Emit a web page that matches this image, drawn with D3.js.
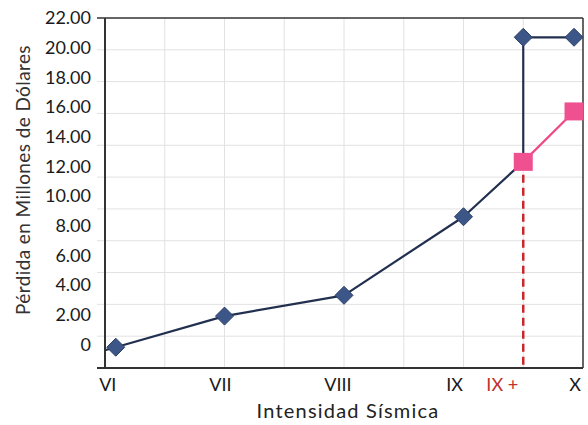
<!DOCTYPE html>
<html>
<head>
<meta charset="utf-8">
<script src="https://cdn.jsdelivr.net/npm/d3@7"></script>
<style>
  html, body { margin: 0; padding: 0; background: #fff; }
  svg { display: block; font-family: Lato, "Open Sans", sans-serif; }
</style>
</head>
<body>
<svg id="chart" width="588" height="425"></svg>
<script>
// Seismic intensity categories (x axis)
const intensities = ["VI", "VII", "VIII", "IX", "IX +", "X"];

// Loss series (millions of dollars), blue: jumps at IX+ from 12.3 to 20.7
const lossCats   = ["VI", "VII", "VIII", "IX", "IX +", "IX +", "X"];
const lossValues = [-0.2, 1.9, 3.3, 8.6, 12.3, 20.7, 20.7];
const lossMarked = [true, true, true, true, false, true, true];

// Alternative loss series, pink
const altCats   = ["IX +", "X"];
const altValues = [12.3, 15.7];

// Y tick labels
const yTicks = [0, 2, 4, 6, 8, 10, 12, 14, 16, 18, 20, 22];

// Layout: category positions along the grid (grid columns) and label nudges
const catPos = { "VI": 0.18, "VII": 2, "VIII": 4, "IX": 6, "IX +": 7, "X": 7.85 };
const labelNudge = { "VI": -8, "VII": -4, "VIII": -6, "IX": -9, "IX +": -21, "X": 1 };

const plotLeft = 105, plotRight = 583, plotTop = 18, plotBottom = 368;

const svg = d3.select("#chart");

const x = d3.scaleLinear().domain([0, 8]).range([plotLeft, plotRight]);
const y = d3.scaleLinear().domain([-1.6, 22]).range([plotBottom, plotTop]);
// grid rows are evenly spaced over the plot
const gy = d3.scaleLinear().domain([0, 11]).range([plotBottom, plotTop]);

// gridlines
const grid = svg.append("g").attr("stroke", "#e2e2e2").attr("stroke-width", 1);
grid.selectAll("line.h").data(d3.range(1, 11)).join("line")
  .attr("class", "h")
  .attr("x1", plotLeft - 8).attr("x2", plotRight)
  .attr("y1", d => gy(d)).attr("y2", d => gy(d));
grid.selectAll("line.v").data(d3.range(1, 8)).join("line")
  .attr("class", "v")
  .attr("x1", d => x(d)).attr("x2", d => x(d))
  .attr("y1", plotTop).attr("y2", plotBottom);

// frame
const frame = svg.append("g").attr("stroke", "#333").attr("fill", "none");
frame.append("line").attr("x1", plotLeft - 8).attr("x2", plotRight).attr("y1", plotTop).attr("y2", plotTop).attr("stroke-width", 1.5);
frame.append("line").attr("x1", plotRight).attr("x2", plotRight).attr("y1", plotTop).attr("y2", plotBottom).attr("stroke-width", 1.5);
frame.append("line").attr("x1", plotLeft).attr("x2", plotLeft).attr("y1", plotTop).attr("y2", plotBottom).attr("stroke-width", 2);
frame.append("line").attr("x1", plotLeft - 8).attr("x2", plotRight).attr("y1", plotBottom).attr("y2", plotBottom).attr("stroke-width", 2);

// y tick labels
svg.append("g").selectAll("text").data(yTicks).join("text")
  .attr("x", 91)
  .attr("y", d => y(d))
  .attr("dy", "0.36em")
  .attr("text-anchor", "end")
  .attr("font-size", 18)
  .attr("fill", "#1a1a1a")
  .text(d => d === 0 ? "0" : d3.format(".2f")(d));

// x tick labels
svg.append("g").selectAll("text").data(intensities).join("text")
  .attr("x", d => x(catPos[d]) + labelNudge[d])
  .attr("y", 391)
  .attr("text-anchor", "middle")
  .attr("font-size", 18)
  .attr("fill", d => d === "IX +" ? "#c0302c" : "#1a1a1a")
  .text(d => d);

// axis titles
svg.append("text")
  .attr("x", 348).attr("y", 418)
  .attr("text-anchor", "middle")
  .attr("font-size", 20)
  .attr("letter-spacing", 1.2)
  .attr("fill", "#222")
  .text("Intensidad Sísmica");

svg.append("text")
  .attr("transform", "translate(30,180) rotate(-90)")
  .attr("text-anchor", "middle")
  .attr("font-size", 19)
  .attr("letter-spacing", 0.4)
  .attr("fill", "#333")
  .text("Pérdida en Millones de Dólares");

// dashed drop line at IX+
svg.append("line")
  .attr("x1", x(catPos["IX +"])).attr("x2", x(catPos["IX +"]))
  .attr("y1", y(altValues[0])).attr("y2", plotBottom)
  .attr("stroke", "#c8282c")
  .attr("stroke-width", 2.5)
  .attr("stroke-dasharray", "8,5");

// blue loss line, its first segment carried back to the value axis
const lossPts = lossCats.map((c, i) => [x(catPos[c]), y(lossValues[i])]);
const [p0, p1] = lossPts;
const slope = (p1[1] - p0[1]) / (p1[0] - p0[0]);
const lead = [plotLeft, p0[1] - slope * (p0[0] - plotLeft)];
svg.append("path")
  .attr("d", d3.line()([lead, ...lossPts]))
  .attr("fill", "none")
  .attr("stroke", "#22304f")
  .attr("stroke-width", 2.2)
  .attr("stroke-linejoin", "round");

// pink line
const altPts = altCats.map((c, i) => [x(catPos[c]), y(altValues[i])]);
svg.append("path")
  .attr("d", d3.line()(altPts))
  .attr("fill", "none")
  .attr("stroke", "#ee4a86")
  .attr("stroke-width", 2.2);

// diamonds
svg.append("g").selectAll("path")
  .data(lossPts.filter((p, i) => lossMarked[i]))
  .join("path")
  .attr("transform", d => `translate(${d[0]},${d[1]})`)
  .attr("d", "M0,-9L9,0L0,9L-9,0Z")
  .attr("fill", "#3d5688")
  .attr("stroke", "#2c3f68")
  .attr("stroke-width", 1);

// squares
svg.append("g").selectAll("rect")
  .data(altPts)
  .join("rect")
  .attr("x", d => d[0] - 9.5).attr("y", d => d[1] - 9)
  .attr("width", 19).attr("height", 18)
  .attr("fill", "#ef5090");
</script>
</body>
</html>
